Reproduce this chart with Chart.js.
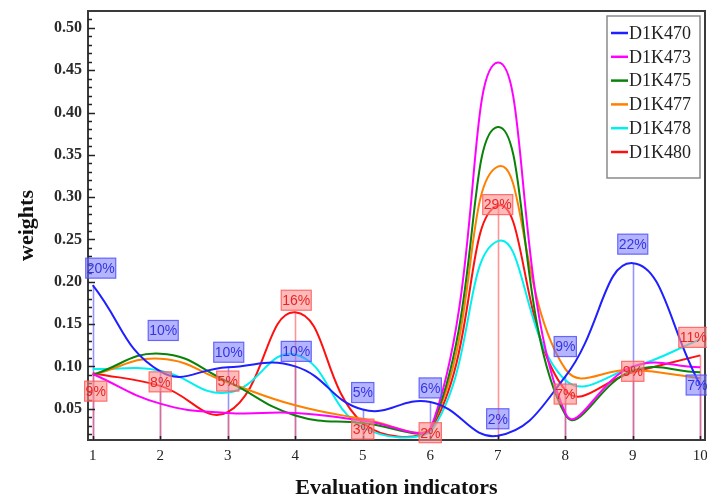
<!DOCTYPE html>
<html><head><meta charset="utf-8">
<script src="https://cdn.jsdelivr.net/npm/chart.js@4/dist/chart.umd.min.js"></script>
<style>html,body{margin:0;padding:0;background:#fff}#wrap{width:707px;height:502px}</style>
</head><body><div id="wrap"><canvas id="c" width="707" height="502"></canvas></div>
<script>
// ---- data ----
const categories = [1, 2, 3, 4, 5, 6, 7, 8, 9, 10];
const seriesNames = ['D1K470', 'D1K473', 'D1K475', 'D1K477', 'D1K478', 'D1K480'];
const d1k470 = [0.196, 0.094, 0.099, 0.100, 0.049, 0.058, 0.018, 0.088, 0.222, 0.078];
const d1k473 = [0.091, 0.056, 0.045, 0.045, 0.036, 0.025, 0.459, 0.045, 0.100, 0.099];
const d1k475 = [0.090, 0.115, 0.082, 0.042, 0.033, 0.025, 0.383, 0.043, 0.095, 0.093];
const d1k477 = [0.090, 0.109, 0.081, 0.054, 0.038, 0.026, 0.336, 0.097, 0.096, 0.086];
const d1k478 = [0.097, 0.095, 0.069, 0.114, 0.028, 0.022, 0.248, 0.084, 0.099, 0.132];
const d1k480 = [0.092, 0.077, 0.046, 0.164, 0.033, 0.024, 0.290, 0.072, 0.093, 0.113];
const yTickValues = [0.05, 0.10, 0.15, 0.20, 0.25, 0.30, 0.35, 0.40, 0.45, 0.50];
const blueLabels = ['20%', '10%', '10%', '10%', '5%', '6%', '2%', '9%', '22%', '7%'];
const redLabels  = ['9%', '8%', '5%', '16%', '3%', '2%', '29%', '7%', '9%', '11%'];

// ---- styles ----
const seriesColors = ['#1f1fff', '#ff00ff', '#0a820a', '#ff8000', '#00f0f0', '#ff1010'];
// label box offsets (pixels) relative to the point, styling only
const blueOffsets = [[8,-17],[3,-41],[1,-15],[1,-15],[0,-17],[0,-14],[0,-17],[0,-30],[0,-19],[-3,0]];
const redOffsets  = [[3,18],[0,-4],[0,-31],[1,-12],[0,6],[0,2],[0,-1],[0,4],[0,-1],[-7,-18]];

const seriesData = [d1k470, d1k473, d1k475, d1k477, d1k478, d1k480];

const datasets = seriesNames.map((name, i) => ({
  label: name,
  data: categories.map((c, j) => ({x: c, y: seriesData[i][j]})),
  borderColor: seriesColors[i],
  backgroundColor: seriesColors[i],
  borderWidth: 2,
  pointRadius: 0,
  tension: 0.45,
  fill: false
}));

const annotPlugin = {
  id: 'annot',
  beforeDatasetsDraw(chart) {
    const {ctx, chartArea, scales: {x, y}} = chart;
    ctx.save();
    ctx.beginPath();
    ctx.rect(chartArea.left, chartArea.top, chartArea.right - chartArea.left, chartArea.bottom - chartArea.top);
    ctx.clip();
    ctx.lineWidth = 1.6;
    ctx.strokeStyle = 'rgba(90,90,255,0.65)';
    categories.forEach((c, j) => {
      const px = Math.round(x.getPixelForValue(c)) + 0.5;
      ctx.beginPath();
      ctx.moveTo(px, y.getPixelForValue(d1k470[j]));
      ctx.lineTo(px, chartArea.bottom);
      ctx.stroke();
    });
    ctx.strokeStyle = 'rgba(255,90,90,0.65)';
    categories.forEach((c, j) => {
      const px = Math.round(x.getPixelForValue(c)) + 0.5;
      ctx.beginPath();
      ctx.moveTo(px, y.getPixelForValue(d1k480[j]));
      ctx.lineTo(px, chartArea.bottom);
      ctx.stroke();
    });
    ctx.restore();
  },
  afterDatasetsDraw(chart) {
    const {ctx, chartArea, scales: {x, y}} = chart;
    ctx.save();
    ctx.strokeStyle = '#3a3a3a';
    ctx.lineWidth = 2;
    ctx.beginPath();
    ctx.moveTo(chartArea.left, chartArea.top);
    ctx.lineTo(chartArea.right, chartArea.top);
    ctx.lineTo(chartArea.right, chartArea.bottom);
    ctx.stroke();
    ctx.lineWidth = 1.5;
    ctx.strokeStyle = '#222';
    for (let k = 2; k <= 52; k++) {
      const v = k / 100;
      const py = Math.round(y.getPixelForValue(v)) + 0.5;
      if (py < chartArea.top + 1) continue;
      const major = (k % 5 === 0);
      ctx.beginPath();
      ctx.moveTo(chartArea.left, py);
      ctx.lineTo(chartArea.left + (major ? 7 : 4), py);
      ctx.stroke();
    }
    categories.forEach(c => {
      const px = Math.round(x.getPixelForValue(c)) + 0.5;
      ctx.beginPath();
      ctx.moveTo(px, chartArea.bottom);
      ctx.lineTo(px, chartArea.bottom - 4);
      ctx.stroke();
    });
    ctx.font = '14px "Liberation Sans", Arial, sans-serif';
    ctx.textAlign = 'center';
    ctx.textBaseline = 'middle';
    const drawBox = (txt, cx, cy, fill, stroke, color) => {
      const w = ctx.measureText(txt).width + 2;
      const h = 20;
      ctx.fillStyle = fill;
      ctx.fillRect(cx - w / 2, cy - h / 2, w, h);
      ctx.strokeStyle = stroke;
      ctx.lineWidth = 1.2;
      ctx.strokeRect(cx - w / 2, cy - h / 2, w, h);
      ctx.fillStyle = color;
      ctx.fillText(txt, cx, cy + 1);
    };
    categories.forEach((c, j) => {
      const px = x.getPixelForValue(c), py = y.getPixelForValue(d1k470[j]);
      drawBox(blueLabels[j], px + blueOffsets[j][0], py + blueOffsets[j][1],
        'rgba(120,120,255,0.55)', 'rgba(80,80,255,0.85)', 'rgba(40,40,220,0.9)');
    });
    categories.forEach((c, j) => {
      const px = x.getPixelForValue(c), py = y.getPixelForValue(d1k480[j]);
      drawBox(redLabels[j], px + redOffsets[j][0], py + redOffsets[j][1],
        'rgba(255,140,140,0.6)', 'rgba(255,90,90,0.85)', 'rgba(230,30,30,0.95)');
    });
    const lx = 607, ly = 16, lw = 93, lh = 162;
    ctx.fillStyle = '#fff';
    ctx.fillRect(lx, ly, lw, lh);
    ctx.strokeStyle = '#8a8a8a';
    ctx.lineWidth = 1.5;
    ctx.strokeRect(lx, ly, lw, lh);
    ctx.font = '18px "Liberation Serif", "Times New Roman", serif';
    ctx.textAlign = 'left';
    ctx.textBaseline = 'middle';
    chart.data.datasets.forEach((ds, i) => {
      const ry = 33 + i * 23.8;
      ctx.strokeStyle = ds.borderColor;
      ctx.lineWidth = 2.5;
      ctx.beginPath();
      ctx.moveTo(lx + 4, ry);
      ctx.lineTo(lx + 21, ry);
      ctx.stroke();
      ctx.fillStyle = '#222';
      ctx.fillText(ds.label, lx + 22, ry + 1);
    });
    ctx.restore();
  }
};

new Chart(document.getElementById('c'), {
  type: 'line',
  data: {datasets},
  options: {
    responsive: false,
    animation: false,
    devicePixelRatio: 1,
    layout: {padding: {top: 11, right: 2, left: 0, bottom: 0}},
    plugins: {legend: {display: false}, tooltip: {enabled: false}},
    elements: {line: {capBezierPoints: true}},
    scales: {
      x: {
        type: 'linear',
        min: 0.93, max: 10.07,
        afterBuildTicks: s => { s.ticks = categories.map(v => ({value: v})); },
        afterFit: s => { s.height = 62; s.paddingLeft = 0; s.paddingRight = 0; },
        grid: {display: false, drawTicks: false},
        border: {display: true, color: '#3a3a3a', width: 2},
        ticks: {
          font: {family: '"Liberation Serif", "Times New Roman", serif', size: 15},
          color: '#222', padding: 7, maxRotation: 0, autoSkip: false,
          callback: v => String(v)
        },
        title: {
          display: true, text: 'Evaluation indicators', color: '#111',
          font: {family: '"Liberation Serif", "Times New Roman", serif', size: 22, weight: 'bold'},
          padding: {top: 0, bottom: 0}
        }
      },
      y: {
        type: 'linear',
        min: 0.013, max: 0.52,
        afterBuildTicks: s => { s.ticks = yTickValues.map(v => ({value: v})); },
        afterFit: s => { s.width = 88; s.paddingTop = 0; s.paddingBottom = 0; },
        grid: {display: false, drawTicks: false},
        border: {display: true, color: '#3a3a3a', width: 2},
        ticks: {
          font: {family: '"Liberation Serif", "Times New Roman", serif', size: 16, weight: 'bold'},
          color: '#2a2a2a', padding: 6,
          callback: v => Number(v).toFixed(2)
        },
        title: {
          display: true, text: 'weights', color: '#111',
          font: {family: '"Liberation Serif", "Times New Roman", serif', size: 22, weight: 'bold'},
          padding: {top: 14, bottom: 0}
        }
      }
    }
  },
  plugins: [annotPlugin]
});
</script>
</body></html>
